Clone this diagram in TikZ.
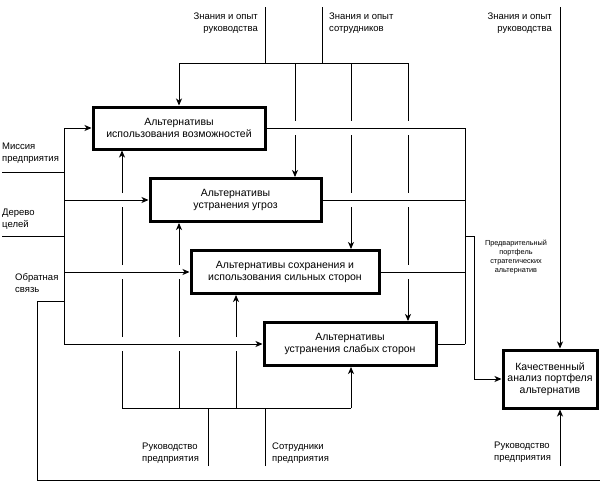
\documentclass[tikz,border=0pt]{standalone}
\usepackage{fontspec}
\setmainfont{Liberation Sans}
\usetikzlibrary{arrows.meta}
\begin{document}
\begin{tikzpicture}[x=1pt,y=-1pt,
  proc/.style={draw, line width=3pt, align=center, inner sep=0pt,
    font=\fontsize{10.5}{11.8}\selectfont},
  wire/.style={line width=0.9pt},
  arr/.style={wire,-{Stealth[length=7pt,width=6pt,inset=2pt]}},
  lbl/.style={inner sep=0pt, font=\fontsize{9.5}{12}\selectfont},
  tiny/.style={inner sep=0pt, align=center, font=\fontsize{7.3}{9.3}\selectfont}
]
\useasboundingbox (0,0) rectangle (600,490);

% boxes
\node[proc, minimum width=172pt, minimum height=42pt] (b1) at (179,128) {Альтернативы\\использования возможностей};
\node[proc, minimum width=171pt, minimum height=43pt] (b2) at (235.5,200) {Альтернативы\\устранения угроз};
\node[proc, minimum width=188pt, minimum height=43pt] (b3) at (285,272) {Альтернативы сохранения и\\использования сильных сторон};
\node[proc, minimum width=172pt, minimum height=43pt] (b4) at (350,344) {Альтернативы\\устранения слабых сторон};
\node[proc, minimum width=94pt, minimum height=58pt] (b5) at (550,379) {Качественный\\анализ портфеля\\альтернатив};

% top controls
\coordinate (tA) at (265,7);
\coordinate (tB) at (322,7);
\coordinate (hL) at (179,63);
\coordinate (hR) at (408,63);
\coordinate (d2) at (295,63);
\coordinate (d3) at (351,63);
\draw[wire] (tA) -- (tA |- hL);
\draw[wire] (tB) -- (tB |- hL);
\draw[wire] (hL) -- (hR);
\draw[arr] (hL) -- (b1.north);
\draw[arr] (d2) -- (295,121) (295,135) -- (b2.north -| d2);
\draw[arr] (d3) -- (351,121) (351,135) -- (351,193) (351,207) -- (b3.north -| d3);
\draw[arr] (hR) -- (408,121) (408,135) -- (408,193) (408,207) -- (408,265) (408,279) -- (b4.north -| hR);

\node[lbl, anchor=north east, align=right] (lt1) at (258,13) {Знания и опыт\\руководства};
\node[lbl, anchor=north west, align=left] (lt2) at (329,13) {Знания и опыт\\сотрудников};

% left inputs
\coordinate (mL) at (2,172);
\coordinate (mR) at (64,172);
\coordinate (dL) at (2,236);
\coordinate (dR) at (64,236);
\coordinate (vT) at (64,128);
\coordinate (vB) at (64,344);
\draw[wire] (mL) -- (mR);
\draw[wire] (dL) -- (dR);
\draw[wire] (vT) -- (vB);
\draw[arr] (vT) -- (b1.west);
\draw[arr] (vT |- b2.west) -- (b2.west);
\draw[arr] (vT |- b3.west) -- (b3.west);
\draw[arr] (vB) -- (b4.west);

\node[lbl, anchor=north west, align=left] (l1) at (2,143) {Миссия\\предприятия};
\node[lbl, anchor=north west, align=left] (l2) at (2,209) {Дерево\\целей};
\node[lbl, anchor=north west, align=left] (l3) at (15,273) {Обратная\\связь};

% feedback
\coordinate (fbR) at (600,480);
\coordinate (fbC) at (37,480);
\coordinate (fbE) at (64,301);
\draw[wire] (fbR) -- (fbC) |- (fbE);

% outputs
\coordinate (oT) at (465,128);
\coordinate (oB) at (465,344);
\coordinate (oJ) at (465,236);
\draw[wire] (b1.east) -- (oT);
\draw[wire] (b2.east) -- (b2.east -| oT);
\draw[wire] (b3.east) -- (b3.east -| oT);
\draw[wire] (b4.east) -- (oB);
\draw[wire] (oT) -- (oB);
\draw[arr] (oJ) -- ++(9,0) |- (b5.west);
\node[tiny] (lp) at (516,257) {Предварительный\\портфель\\стратегических\\альтернатив};

% right control / mechanism
\coordinate (rT) at (560,7);
\coordinate (rB) at (560,466);
\draw[arr] (rT) -- (b5.north -| rT);
\draw[arr] (rB) -- (b5.south -| rT);
\node[lbl, anchor=north east, align=right] (lt3) at (552,13) {Знания и опыт\\руководства};
\node[lbl, anchor=north west, align=left] (lm3) at (494,442) {Руководство\\предприятия};

% bottom mechanisms
\coordinate (u1) at (122,408);
\coordinate (u2) at (179,408);
\coordinate (u3) at (236,408);
\coordinate (u4) at (351,408);
\coordinate (mA) at (208,466);
\coordinate (mB) at (265,466);
\draw[wire] (u1) -- (u4);
\draw[wire] (mA) -- (mA |- u1);
\draw[wire] (mB) -- (mB |- u1);
\draw[arr] (u1) -- (122,351) (122,337) -- (122,279) (122,265) -- (122,207) (122,193) -- (b1.south -| u1);
\draw[arr] (u2) -- (179,351) (179,337) -- (179,279) (179,265) -- (b2.south -| u2);
\draw[arr] (u3) -- (236,351) (236,337) -- (b3.south -| u3);
\draw[arr] (u4) -- (b4.south -| u4);
\node[lbl, anchor=north west, align=left] (lm1) at (142,443) {Руководство\\предприятия};
\node[lbl, anchor=north west, align=left] (lm2) at (272,443) {Сотрудники\\предприятия};
\end{tikzpicture}
\end{document}
